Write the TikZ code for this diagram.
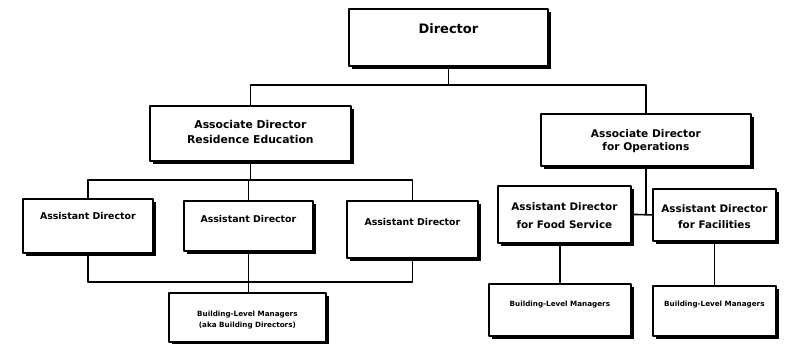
\documentclass[tikz,border=0pt]{standalone}
\usepackage{fontspec}
\setmainfont{DejaVu Sans}
\usetikzlibrary{shadows}
\tikzset{
  unit/.style={draw, line width=1.8pt, fill=white, inner sep=0pt, align=center,
    anchor=north west, drop shadow={shadow xshift=3pt, shadow yshift=-3pt, fill=black, opacity=1}},
  link/.style={line width=1.6pt}
}
\begin{document}
\begin{tikzpicture}[x=1pt, y=-1pt, line join=round, line cap=round]
  \useasboundingbox (0,0) rectangle (785,344);
  % top level
  \node[unit, minimum width=199pt, text height=25pt, text depth=32pt,
    font=\fontsize{13}{15}\selectfont\bfseries] (dir) at (348,8) {Director};
  \node[unit, minimum width=201pt, text height=38pt, text depth=17pt,
    font=\fontsize{10.8}{15}\selectfont\bfseries] (res) at (149,105) {Associate Director\\Residence Education};
  \node[unit, minimum width=210pt, text height=37pt, text depth=15pt,
    font=\fontsize{10.6}{13.5}\selectfont\bfseries] (ops) at (540,113) {Associate Director\\for Operations};
  % assistant directors
  \node[unit, minimum width=130pt, text height=21pt, text depth=33pt,
    font=\fontsize{9.4}{12}\selectfont\bfseries] (ad1) at (22,198) {Assistant Director};
  \node[unit, minimum width=129pt, text height=22pt, text depth=28pt,
    font=\fontsize{9.4}{12}\selectfont\bfseries] (ad2) at (183,200) {Assistant Director};
  \node[unit, minimum width=131pt, text height=25pt, text depth=32pt,
    font=\fontsize{9.4}{12}\selectfont\bfseries] (ad3) at (346,200) {Assistant Director};
  \node[unit, minimum width=133pt, text height=43pt, text depth=14pt,
    font=\fontsize{10.4}{18}\selectfont\bfseries] (food) at (497,185) {Assistant Director\\for Food Service};
  \node[unit, minimum width=123pt, text height=40pt, text depth=12pt,
    font=\fontsize{10.4}{16}\selectfont\bfseries] (fac) at (652,188) {Assistant Director\\for Facilities};
  % building level
  \node[unit, minimum width=157pt, text height=35pt, text depth=14pt,
    font=\fontsize{7.2}{11}\selectfont\bfseries] (blmres) at (168,292) {Building-Level Managers\\(aka Building Directors)};
  \node[unit, minimum width=142pt, text height=23pt, text depth=29pt,
    font=\fontsize{7.2}{11}\selectfont\bfseries] (blmfood) at (488,283) {Building-Level Managers};
  \node[unit, minimum width=123pt, text height=21pt, text depth=29pt,
    font=\fontsize{7.2}{11}\selectfont\bfseries] (blmfac) at (652,285) {Building-Level Managers};
  % connectors
  \draw[link] (dir.south) -- ++(0,18) coordinate (dirjoin);
  \draw[link] (res.north) |- (dirjoin) -| (ops.north);
  \draw[link] (res.south) -- ++(0,18) coordinate (resjoin);
  \draw[link] (ad1.north) |- (resjoin) -| (ad3.north);
  \draw[link] (ad2.north |- resjoin) -- (ad2.north);
  \path (ad2.south) ++(0,30) coordinate (adjoin);
  \draw[link] (ad1.south) |- (adjoin) -| (ad3.south);
  \draw[link] (ad2.south) -- (blmres.north -| ad2.south);
  \draw[link] (ops.south) |- (food.east);
  \draw[link] (food.east) -- (fac.west);
  \draw[link] (blmfood.north |- food.south) -- (blmfood.north);
  \draw[link] (fac.south) -- (blmfac.north);
\end{tikzpicture}
\end{document}
